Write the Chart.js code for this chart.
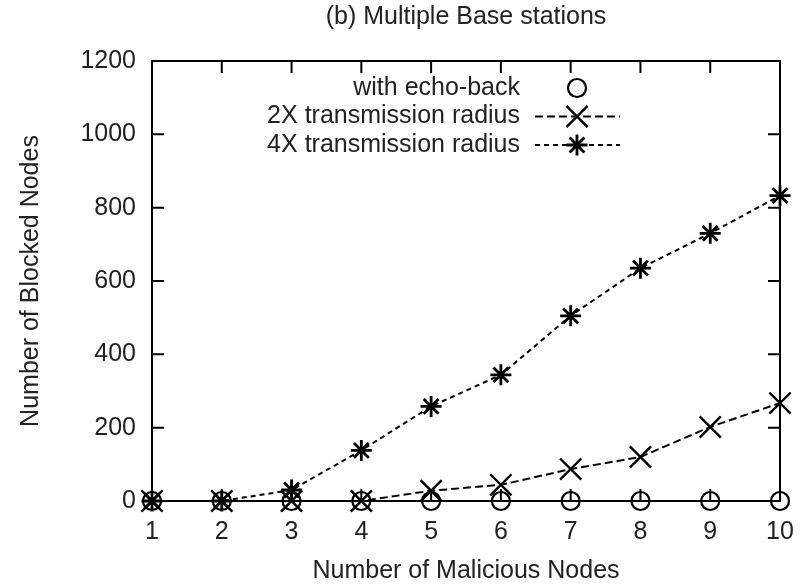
<!DOCTYPE html>
<html>
<head>
<meta charset="utf-8">
<script src="https://cdn.jsdelivr.net/npm/chart.js@4.4.1/dist/chart.umd.min.js"></script>
<style>
  html, body { margin: 0; padding: 0; background: #fff; }
  #chart { display: block; }
</style>
</head>
<body>
<canvas id="chart" width="805" height="585"></canvas>
<script>
"use strict";

// Values
const maliciousNodes = [1, 2, 3, 4, 5, 6, 7, 8, 9, 10];
const echoBack = [0, 0, 0, 0, 0, 0, 0, 0, 0, 0];
const radius2x = [0, 0, 0, 0, 28, 44, 87, 120, 202, 267];
const radius4x = [0, 0, 30, 138, 258, 344, 505, 635, 730, 833];
const seriesNames = ["with echo-back", "2X transmission radius", "4X transmission radius"];
const yTicks = [0, 200, 400, 600, 800, 1000, 1200];

const textFont = "'Liberation Sans', Arial, Helvetica, sans-serif";
const ink = "#000";
const textInk = "#222";

function toPoints(values) {
  return maliciousNodes.map((n, i) => ({ x: n, y: values[i] }));
}

// Box around the plot with inward ticks on all four sides (gnuplot look)
const framePlugin = {
  id: "frame",
  beforeDatasetsDraw(chart) {
    const { ctx, chartArea: a, scales } = chart;
    const len = 12;
    ctx.save();
    ctx.strokeStyle = ink;
    ctx.lineWidth = 2;
    ctx.strokeRect(a.left, a.top, a.right - a.left, a.bottom - a.top);
    ctx.beginPath();
    scales.x.ticks.forEach((t) => {
      const px = scales.x.getPixelForValue(t.value);
      ctx.moveTo(px, a.bottom);
      ctx.lineTo(px, a.bottom - len);
      ctx.moveTo(px, a.top);
      ctx.lineTo(px, a.top + len);
    });
    scales.y.ticks.forEach((t) => {
      const py = scales.y.getPixelForValue(t.value);
      ctx.moveTo(a.left, py);
      ctx.lineTo(a.left + len, py);
      ctx.moveTo(a.right, py);
      ctx.lineTo(a.right - len, py);
    });
    ctx.stroke();
    ctx.restore();
  },
};

// Key in the upper middle: right aligned text, sample on the right
const keyPlugin = {
  id: "key",
  afterDraw(chart) {
    const { ctx } = chart;
    ctx.save();
    ctx.font = "25px " + textFont;
    ctx.textAlign = "right";
    ctx.textBaseline = "middle";
    chart.data.datasets.forEach((ds, i) => {
      const y = 88 + i * 28.5;
      ctx.fillStyle = textInk;
      ctx.fillText(ds.label, 520, y);
      ctx.strokeStyle = ink;
      ctx.lineWidth = ds.borderWidth;
      if (ds.showLine !== false) {
        ctx.setLineDash(ds.borderDash || []);
        ctx.beginPath();
        ctx.moveTo(535, y);
        ctx.lineTo(620, y);
        ctx.stroke();
        ctx.setLineDash([]);
      }
      ctx.fillStyle = "rgba(0,0,0,0)";
      ctx.lineWidth = ds.pointBorderWidth;
      Chart.helpers.drawPoint(ctx, {
        pointStyle: ds.pointStyle,
        radius: ds.pointRadius,
        borderWidth: ds.pointBorderWidth,
        rotation: 0,
      }, 577, y);
    });
    ctx.restore();
  },
};

const ctx = document.getElementById("chart").getContext("2d");
const chart = new Chart(ctx, {
  type: "line",
  data: {
    datasets: [
      {
        label: seriesNames[0],
        data: toPoints(echoBack),
        showLine: false,
        pointStyle: "circle",
        pointRadius: 9,
        pointBorderWidth: 2.2,
        pointBackgroundColor: "rgba(0,0,0,0)",
        pointBorderColor: ink,
        borderColor: ink,
        borderWidth: 2,
        clip: false,
      },
      {
        label: seriesNames[1],
        data: toPoints(radius2x),
        borderColor: ink,
        borderWidth: 2,
        borderDash: [8, 4],
        tension: 0,
        fill: false,
        pointStyle: "crossRot",
        pointRadius: 15,
        pointBorderWidth: 2.4,
        pointBorderColor: ink,
        pointBackgroundColor: "rgba(0,0,0,0)",
        clip: false,
      },
      {
        label: seriesNames[2],
        data: toPoints(radius4x),
        borderColor: ink,
        borderWidth: 2,
        borderDash: [5, 4],
        tension: 0,
        fill: false,
        pointStyle: "star",
        pointRadius: 10.5,
        pointBorderWidth: 2.8,
        pointBorderColor: ink,
        pointBackgroundColor: "rgba(0,0,0,0)",
        clip: false,
      },
    ],
  },
  options: {
    responsive: false,
    animation: false,
    devicePixelRatio: 1,
    layout: { padding: { left: 0, right: 25, top: 0, bottom: 0 } },
    plugins: {
      legend: { display: false },
      tooltip: { enabled: false },
      title: {
        display: true,
        fullSize: false,
        text: "(b) Multiple Base stations",
        color: textInk,
        font: { family: textFont, size: 25, weight: "normal", lineHeight: 1 },
        padding: { top: 4.5, bottom: 31.5 },
      },
    },
    scales: {
      x: {
        type: "linear",
        min: 1,
        max: 10,
        grid: { display: false, drawTicks: false },
        border: { display: false },
        ticks: { stepSize: 1, padding: 16, color: textInk, font: { family: textFont, size: 25 } },
        title: {
          display: true,
          text: "Number of Malicious Nodes",
          color: textInk,
          font: { family: textFont, size: 25, lineHeight: 1 },
          padding: { top: 0, bottom: 1 },
        },
        afterFit(scale) {
          scale.height = 84;
          scale.paddingLeft = 0;
          scale.paddingRight = 0;
        },
      },
      y: {
        type: "linear",
        min: 0,
        max: 1200,
        grid: { display: false, drawTicks: false },
        border: { display: false },
        ticks: {
          padding: 16,
          color: textInk,
          font: { family: textFont, size: 25 },
          callback: (v) => String(v),
        },
        afterBuildTicks(scale) { scale.ticks = yTicks.map((v) => ({ value: v })); },
        title: {
          display: true,
          text: "Number of Blocked Nodes",
          color: textInk,
          font: { family: textFont, size: 25, lineHeight: 1 },
          padding: { top: 18.5, bottom: 0 },
        },
        afterFit(scale) { scale.width = 152; },
      },
    },
  },
  plugins: [framePlugin, keyPlugin],
});
</script>
</body>
</html>
